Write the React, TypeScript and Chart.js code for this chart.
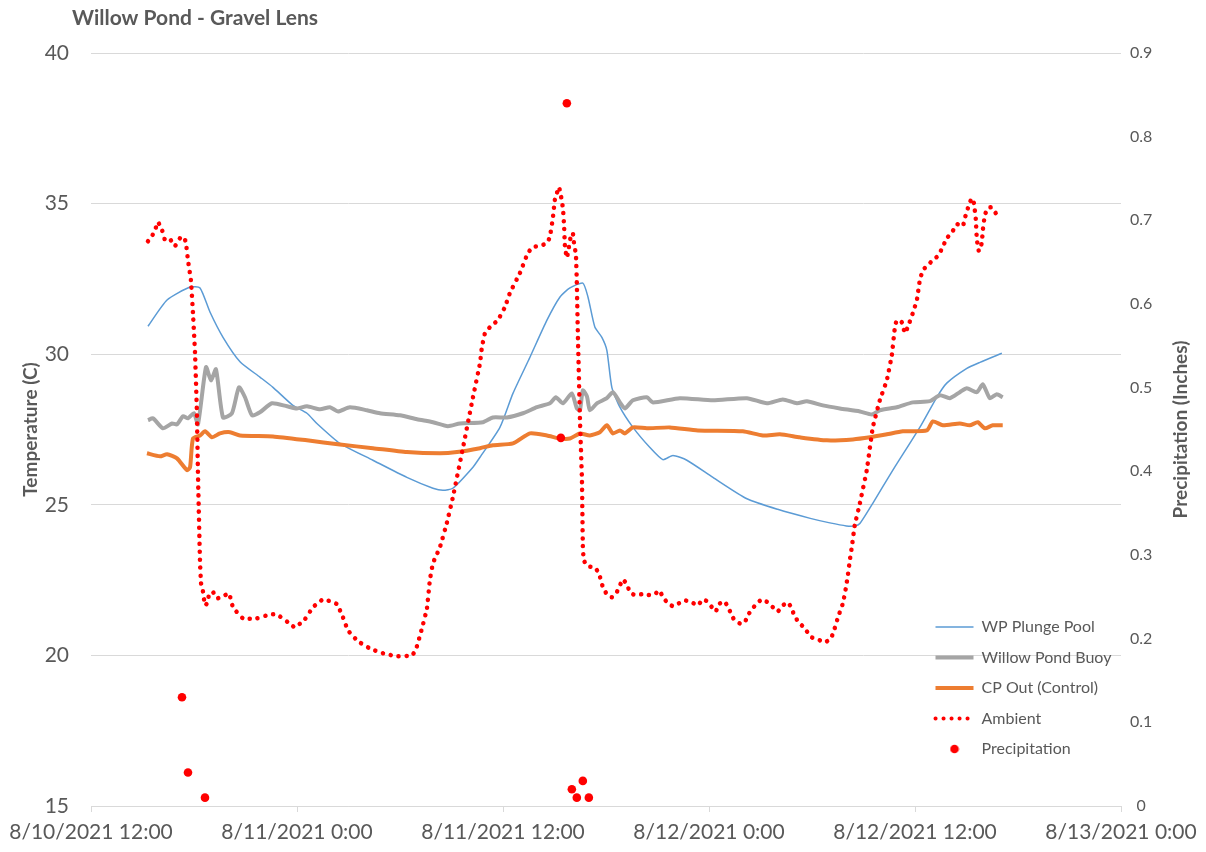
import React, { useEffect, useRef } from "react";
import { Chart, registerables } from "chart.js";

Chart.register(...registerables);

const chartTitle = "Willow Pond - Gravel Lens";
const leftAxisTitle = "Temperature (C)";
const rightAxisTitle = "Precipitation (Inches)";
const xTickLabels = [
  "8/10/2021 12:00",
  "8/11/2021 0:00",
  "8/11/2021 12:00",
  "8/12/2021 0:00",
  "8/12/2021 12:00",
  "8/13/2021 0:00",
];

// time = hours after 8/10/2021 12:00
const plungeHours = [3.32, 4.43, 5.77, 6.35, 6.93, 7.69, 8.68, 9.84, 10.6, 11.76, 12.58, 13.16, 14.5, 16.42, 18.4, 19.92, 20.5, 21.08, 22.25, 22.66, 23.82, 24.58, 25.57, 26.56, 27.32, 27.9, 28.65, 28.95, 29.35, 29.76, 30.05, 30.34, 30.81, 31.57, 32.56, 33.31, 33.9, 34.71, 36.23, 38.21, 40.0, 41.9, 43.04, 44.0, 44.5, 44.79, 45.54, 46.71, 48.28, 49.27, 49.85, 51.02, 51.78, 53.06];
const plungeTemps = [30.93, 31.8, 32.23, 32.2, 31.4, 30.56, 29.75, 29.24, 28.9, 28.3, 28.04, 27.7, 27.04, 26.48, 25.91, 25.55, 25.48, 25.55, 26.25, 26.58, 27.57, 28.7, 29.9, 31.13, 31.9, 32.2, 32.36, 31.9, 30.9, 30.56, 30.13, 28.9, 28.24, 27.57, 26.9, 26.5, 26.64, 26.48, 25.91, 25.2, 24.85, 24.55, 24.4, 24.3, 24.3, 24.38, 25.05, 26.15, 27.57, 28.57, 29.04, 29.53, 29.73, 30.03];

const buoyHours = [3.32, 3.61, 4.19, 4.72, 5.01, 5.36, 5.65, 6.0, 6.23, 6.7, 6.99, 7.28, 7.69, 8.21, 8.62, 8.97, 9.38, 9.84, 10.54, 11.42, 12.0, 12.58, 13.34, 13.92, 14.39, 15.08, 16.07, 16.83, 18.0, 18.99, 19.92, 20.79, 21.49, 22.83, 23.41, 24.23, 25.16, 25.98, 26.73, 27.08, 27.49, 28.01, 28.3, 28.48, 28.65, 28.89, 29.06, 29.47, 30.05, 30.4, 30.81, 31.1, 31.57, 32.38, 32.73, 34.3, 36.23, 38.21, 39.37, 40.3, 41.12, 41.7, 42.63, 43.62, 44.79, 45.49, 45.95, 46.94, 47.87, 48.86, 49.45, 50.03, 50.61, 51.02, 51.6, 51.95, 52.36, 52.76, 53.11];
const buoyTemps = [27.81, 27.87, 27.54, 27.7, 27.67, 27.94, 27.87, 28.04, 27.67, 29.57, 29.13, 29.5, 27.9, 28.04, 28.9, 28.57, 27.97, 28.07, 28.37, 28.27, 28.2, 28.27, 28.17, 28.24, 28.1, 28.24, 28.14, 28.04, 27.97, 27.84, 27.74, 27.61, 27.7, 27.74, 27.9, 27.9, 28.04, 28.24, 28.37, 28.57, 28.37, 28.7, 28.2, 28.14, 28.8, 28.6, 28.14, 28.37, 28.54, 28.74, 28.4, 28.2, 28.47, 28.57, 28.4, 28.54, 28.47, 28.54, 28.37, 28.5, 28.37, 28.44, 28.3, 28.2, 28.1, 28.0, 28.14, 28.24, 28.4, 28.44, 28.64, 28.54, 28.74, 28.87, 28.74, 29.0, 28.54, 28.67, 28.57];

const cpHours = [3.26, 4.02, 4.43, 5.01, 5.59, 5.77, 5.94, 6.35, 6.64, 7.05, 7.51, 8.1, 8.68, 10.6, 12.58, 14.5, 16.42, 18.4, 20.33, 21.32, 22.66, 23.41, 24.58, 25.57, 26.56, 27.32, 27.9, 28.48, 29.06, 29.64, 30.05, 30.4, 30.81, 31.1, 31.57, 32.38, 33.72, 35.35, 37.97, 39.14, 40.13, 41.29, 42.87, 44.38, 45.37, 46.36, 47.29, 48.69, 49.04, 49.62, 50.61, 51.19, 51.66, 52.07, 52.53, 53.11];
const cpTemps = [26.71, 26.61, 26.68, 26.54, 26.15, 26.25, 27.2, 27.3, 27.44, 27.24, 27.37, 27.41, 27.3, 27.27, 27.14, 27.0, 26.88, 26.75, 26.71, 26.75, 26.88, 26.98, 27.04, 27.37, 27.3, 27.2, 27.2, 27.37, 27.3, 27.41, 27.64, 27.37, 27.47, 27.37, 27.57, 27.54, 27.57, 27.47, 27.44, 27.3, 27.34, 27.24, 27.14, 27.17, 27.24, 27.34, 27.44, 27.47, 27.77, 27.64, 27.7, 27.64, 27.74, 27.54, 27.64, 27.64];

const ambientHours = [3.32, 3.55, 3.73, 3.9, 4.14, 4.31, 4.6, 4.89, 5.18, 5.42, 5.53, 5.65, 5.82, 5.94, 6.06, 6.17, 6.23, 6.35, 6.41, 6.52, 6.64, 6.81, 6.87, 7.11, 7.34, 7.69, 8.04, 8.27, 8.85, 9.67, 10.42, 10.83, 11.47, 11.88, 12.46, 12.93, 13.51, 13.92, 14.33, 14.68, 14.97, 15.55, 16.25, 17.01, 17.82, 18.7, 18.93, 19.28, 19.57, 19.74, 19.92, 20.33, 20.73, 21.08, 21.67, 22.25, 22.66, 22.77, 22.95, 23.24, 23.7, 24.11, 24.4, 24.98, 25.45, 25.74, 26.15, 26.56, 26.73, 26.91, 27.02, 27.14, 27.26, 27.37, 27.49, 27.55, 27.61, 27.72, 27.78, 27.96, 28.07, 28.13, 28.25, 28.3, 28.36, 28.48, 28.6, 28.65, 28.71, 28.95, 29.35, 29.59, 29.82, 30.05, 30.34, 30.63, 30.98, 31.22, 31.39, 31.68, 32.09, 32.44, 32.85, 33.08, 33.31, 33.55, 33.9, 34.25, 34.59, 35.0, 35.35, 35.64, 35.88, 36.17, 36.4, 36.57, 36.87, 37.1, 37.27, 37.45, 37.8, 38.09, 38.26, 38.5, 38.79, 39.08, 39.43, 39.72, 40.01, 40.3, 40.59, 40.83, 40.94, 41.18, 41.47, 41.99, 42.34, 42.75, 43.1, 43.27, 43.51, 43.8, 43.97, 44.09, 44.2, 44.32, 44.49, 44.79, 45.19, 45.54, 45.95, 46.36, 46.65, 46.83, 46.94, 47.23, 47.41, 47.58, 47.87, 48.11, 48.28, 48.46, 48.75, 49.04, 49.33, 49.56, 49.74, 49.91, 50.2, 50.44, 50.79, 50.9, 51.02, 51.13, 51.31, 51.43, 51.54, 51.6, 51.72, 51.89, 51.95, 52.07, 52.24, 52.47, 52.71, 53.06];
const ambientTemps = [33.75, 33.92, 34.12, 34.39, 34.12, 33.79, 33.82, 33.59, 33.85, 33.89, 33.69, 33.12, 32.46, 31.36, 30.03, 28.04, 26.05, 23.1, 22.4, 22.13, 21.66, 21.76, 22.03, 22.1, 21.89, 21.96, 22.06, 21.6, 21.23, 21.23, 21.36, 21.36, 21.1, 20.93, 21.2, 21.6, 21.86, 21.8, 21.7, 21.26, 20.83, 20.47, 20.23, 20.07, 19.97, 20.0, 20.2, 20.9, 21.56, 22.5, 23.06, 23.6, 24.4, 25.25, 26.9, 28.57, 29.7, 30.23, 30.7, 30.9, 31.13, 31.56, 32.03, 32.69, 33.36, 33.56, 33.59, 33.69, 33.89, 34.55, 35.12, 35.35, 35.55, 35.28, 34.85, 34.35, 33.56, 33.2, 33.36, 33.95, 34.02, 33.72, 33.29, 32.36, 30.7, 27.9, 25.8, 23.65, 23.15, 22.96, 22.92, 22.72, 22.26, 22.03, 21.93, 22.1, 22.52, 22.36, 22.1, 22.0, 22.03, 22.0, 22.03, 22.16, 21.96, 21.76, 21.63, 21.73, 21.83, 21.76, 21.66, 21.86, 21.8, 21.6, 21.46, 21.7, 21.8, 21.63, 21.4, 21.2, 21.06, 21.1, 21.33, 21.53, 21.73, 21.86, 21.76, 21.6, 21.46, 21.66, 21.76, 21.56, 21.36, 21.13, 20.96, 20.6, 20.53, 20.43, 20.56, 20.8, 21.26, 21.73, 22.23, 22.66, 23.15, 23.6, 24.32, 25.05, 26.15, 27.57, 28.47, 29.14, 29.97, 30.9, 31.13, 31.06, 30.7, 30.9, 31.36, 31.8, 32.46, 32.79, 32.96, 33.12, 33.26, 33.49, 33.72, 33.89, 34.09, 34.32, 34.25, 34.52, 34.72, 34.95, 35.18, 35.02, 34.49, 33.82, 33.42, 33.69, 34.12, 34.62, 34.85, 34.88, 34.68, 34.58];

const precipHours = [5.3, 5.65, 6.64, 27.37, 27.72, 28.01, 28.3, 28.65, 29.0];
const precipInches = [0.13, 0.04, 0.01, 0.44, 0.84, 0.02, 0.01, 0.03, 0.01];

const seriesNames = ["WP Plunge Pool", "Willow Pond Buoy", "CP Out (Control)", "Ambient", "Precipitation"];
const seriesColors = ["#5b9bd5", "#a5a5a5", "#ed7d31", "#ff0000", "#ff0000"];

const TEXT = "#595959";
const GRID = "#d9d9d9";

function pts(xs: number[], ys: number[]) {
  return xs.map((x, i) => ({ x, y: ys[i] }));
}

export default function App() {
  const ref = useRef<HTMLCanvasElement | null>(null);

  useEffect(() => {
    if (!ref.current) return;
    Chart.defaults.font.family = "Lato, 'Open Sans', sans-serif";

    const dot = document.createElement("canvas");
    dot.width = 10;
    dot.height = 10;
    const dctx = dot.getContext("2d")!;
    dctx.fillStyle = seriesColors[4];
    dctx.beginPath();
    dctx.arc(5, 5, 4.3, 0, Math.PI * 2);
    dctx.fill();

    const lineWidths = [1.5, 4, 4, 4.5];
    const dashes: number[][] = [[], [], [], [0.1, 7.9]];

    const customPlugin = {
      id: "customLayout",
      afterLayout(chart: any) {
        const lg = chart.legend;
        if (lg) {
          const w = lg.width;
          const h = lg.height;
          lg.left = 921;
          lg.top = 604.5;
          lg.right = lg.left + w;
          lg.bottom = lg.top + h;
        }
      },
      afterDraw(chart: any) {
        const ctx = chart.ctx;
        const ca = chart.chartArea;
        ctx.save();
        ctx.fillStyle = TEXT;
        ctx.textBaseline = "middle";
        ctx.textAlign = "left";
        ctx.font = "bold 21px Lato, 'Open Sans', sans-serif";
        ctx.fillText(chartTitle, 72, 18);
        ctx.translate(1181, (ca.top + ca.bottom) / 2);
        ctx.rotate(-Math.PI / 2);
        ctx.textAlign = "center";
        ctx.font = "bold 19px Lato, 'Open Sans', sans-serif";
        ctx.fillText(rightAxisTitle, 0, 0);
        ctx.restore();
      },
    };

    const chart = new Chart(ref.current, {
      type: "line",
      data: {
        datasets: [
          {
            label: seriesNames[0],
            data: pts(plungeHours, plungeTemps),
            borderColor: seriesColors[0],
            backgroundColor: seriesColors[0],
            borderWidth: lineWidths[0],
            pointRadius: 0,
            tension: 0.2,
            yAxisID: "y",
            order: 5,
          },
          {
            label: seriesNames[1],
            data: pts(buoyHours, buoyTemps),
            borderColor: seriesColors[1],
            backgroundColor: seriesColors[1],
            borderWidth: lineWidths[1],
            pointRadius: 0,
            tension: 0.2,
            yAxisID: "y",
            order: 4,
          },
          {
            label: seriesNames[2],
            data: pts(cpHours, cpTemps),
            borderColor: seriesColors[2],
            backgroundColor: seriesColors[2],
            borderWidth: lineWidths[2],
            pointRadius: 0,
            tension: 0.2,
            yAxisID: "y",
            order: 3,
          },
          {
            label: seriesNames[3],
            data: pts(ambientHours, ambientTemps),
            borderColor: seriesColors[3],
            backgroundColor: seriesColors[3],
            borderWidth: lineWidths[3],
            borderDash: dashes[3],
            borderCapStyle: "round",
            pointRadius: 0,
            tension: 0.1,
            yAxisID: "y",
            order: 2,
          },
          {
            label: seriesNames[4],
            data: pts(precipHours, precipInches),
            borderColor: seriesColors[4],
            backgroundColor: seriesColors[4],
            showLine: false,
            pointRadius: 4.3,
            pointBorderWidth: 0,
            yAxisID: "y2",
            order: 1,
          },
        ],
      },
      options: {
        animation: false,
        responsive: false,
        maintainAspectRatio: false,
        events: [],
        layout: { padding: { top: 53, left: 0, right: 0, bottom: 0 } },
        plugins: {
          title: { display: false },
          tooltip: { enabled: false },
          legend: {
            display: true,
            position: "chartArea" as any,
            align: "start",
            labels: {
              usePointStyle: true,
              pointStyleWidth: 38,
              padding: 14.5,
              color: TEXT,
              font: { size: 16 },
              generateLabels: () =>
                seriesNames.map((name, i) =>
                  i < 4
                    ? {
                        text: name,
                        fillStyle: seriesColors[i],
                        strokeStyle: seriesColors[i],
                        lineWidth: i === 3 ? 4 : lineWidths[i],
                        lineDash: dashes[i],
                        lineCap: i === 3 ? "round" : "butt",
                        pointStyle: "line",
                        hidden: false,
                        datasetIndex: i,
                        fontColor: TEXT,
                      }
                    : {
                        text: name,
                        fillStyle: seriesColors[i],
                        strokeStyle: seriesColors[i],
                        lineWidth: 0,
                        pointStyle: dot,
                        hidden: false,
                        datasetIndex: i,
                        fontColor: TEXT,
                      }
                ) as any,
            },
          },
        },
        scales: {
          x: {
            type: "linear",
            min: 0,
            max: 60,
            afterFit: (s: any) => {
              s.height = 46;
            },
            ticks: {
              stepSize: 12,
              autoSkip: false,
              maxRotation: 0,
              minRotation: 0,
              color: TEXT,
              font: { size: 21 },
              padding: 8,
              callback: (v: any) => xTickLabels[Math.round(Number(v) / 12)] ?? "",
            },
            grid: { drawOnChartArea: false, drawTicks: true, tickLength: 6, color: GRID },
            border: { display: true, color: GRID },
          },
          y: {
            type: "linear",
            position: "left",
            min: 15,
            max: 40,
            afterFit: (s: any) => {
              s.width = 91;
            },
            ticks: { stepSize: 5, color: TEXT, font: { size: 21 }, padding: 22 },
            grid: { color: GRID, drawTicks: false },
            border: { display: false },
            title: {
              display: true,
              text: leftAxisTitle,
              color: TEXT,
              font: { size: 19, weight: "bold" },
              padding: { top: 19, bottom: 0 },
            },
          },
          y2: {
            type: "linear",
            position: "right",
            min: 0,
            max: 0.9,
            afterFit: (s: any) => {
              s.width = 85;
            },
            ticks: {
              stepSize: 0.1,
              color: TEXT,
              font: { size: 16 },
              padding: 9,
              crossAlign: "center",
              callback: (v: any) => (Number(v) === 0 ? "0" : Number(v).toFixed(1)),
            },
            grid: { drawOnChartArea: false, drawTicks: false },
            border: { display: false },
          },
        },
      },
      plugins: [customPlugin],
    } as any);

    return () => chart.destroy();
  }, []);

  return (
    <div style={{ position: "absolute", left: 0, top: 0, width: 1206, height: 852, background: "#fff" }}>
      <canvas ref={ref} width={1206} height={852} style={{ display: "block", width: 1206, height: 852 }} />
    </div>
  );
}
